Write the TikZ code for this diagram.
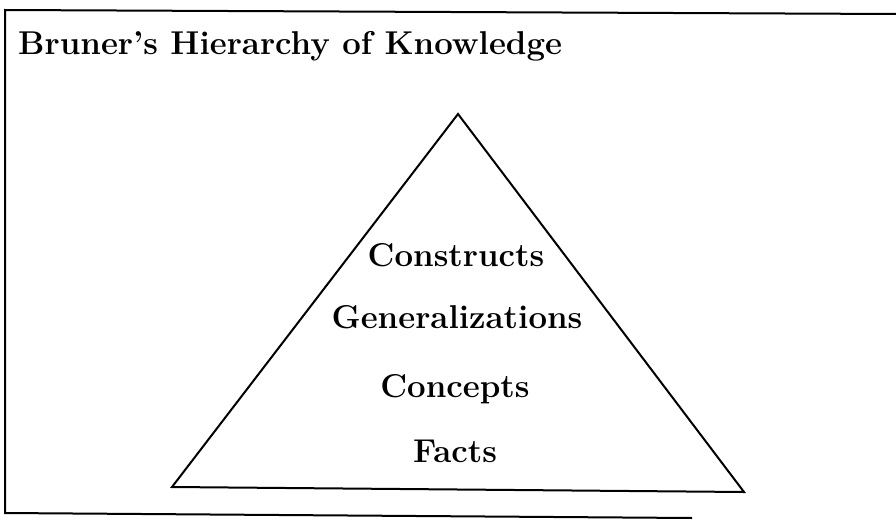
\documentclass[tikz,border=0pt]{standalone}
\usepackage{tikz}
\usetikzlibrary{positioning,calc}
\tikzset{lbl/.style={anchor=base,font=\fontsize{33}{40}\selectfont\bfseries,inner sep=0pt}}

\begin{document}
\begin{tikzpicture}[x=1pt,y=-1pt]
\useasboundingbox (0,0) rectangle (896,519);
\draw[line width=2pt] (896,14)--(5,10)--(5,513)--(692,518);
\draw[line width=2pt,line join=miter] (458,114)--(172,487)--(744,492)--cycle;
\node[lbl,anchor=base west] (title) at (18,55) {Bruner’s Hierarchy of Knowledge};
\node[lbl] (constr) at (456,266) {Constructs}; \node[lbl] (gen) at (457,328) {Generalizations};
\node[lbl] (conc) at (455,397) {Concepts}; \node[lbl] (facts) at (455,462) {Facts};
\end{tikzpicture}
\end{document}
